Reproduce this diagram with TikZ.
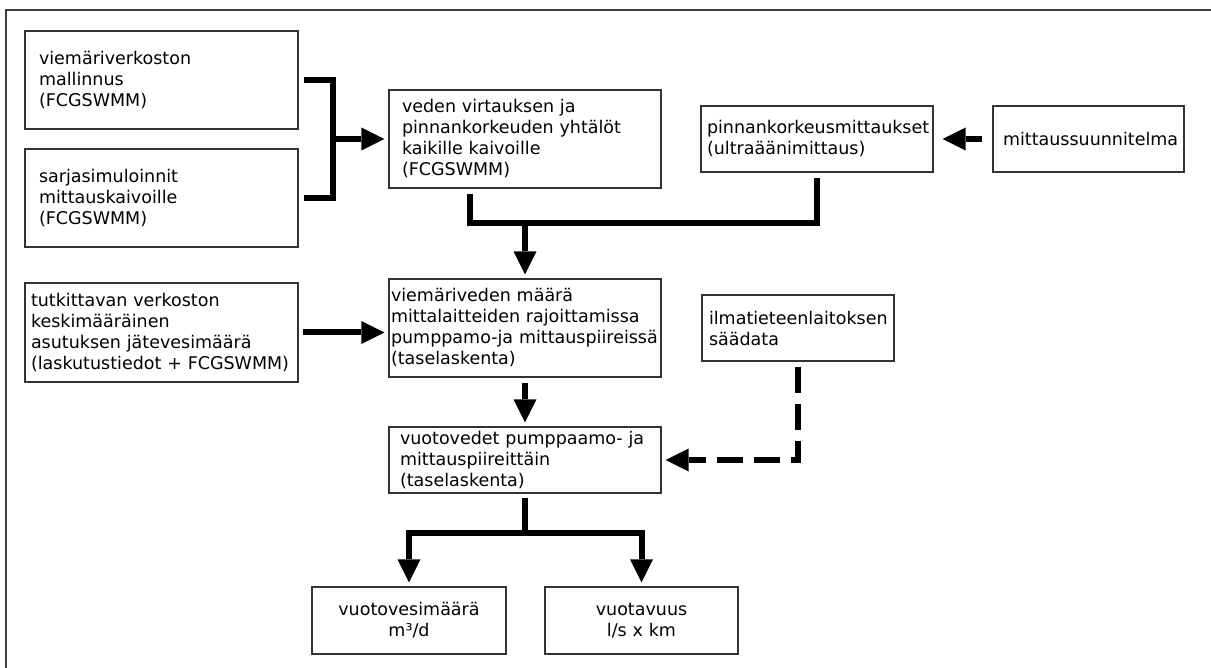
\documentclass[tikz,border=0pt]{standalone}
\usepackage{fontspec}
\setmainfont{DejaVu Sans}
\usetikzlibrary{arrows.meta}

\begin{document}
\begin{tikzpicture}[x=1pt,y=-1pt,
    box/.style={draw=black!80,line width=1.2pt,rectangle,inner ysep=0pt,align=left,
        font=\fontsize{17.5}{21}\selectfont},
    flow/.style={line width=6pt,black},
    arr/.style={flow,-{Triangle[length=23pt,width=23pt,line width=0pt]}},
    dasharr/.style={arr,dash pattern=on 26pt off 11pt}]

    % Page and frame
    \useasboundingbox (0,0) rectangle (1211,668);
    \fill[white] (0,0) rectangle (1211,668);
    \draw[black!75,line width=1.5pt] (6,668) -- (6,10) -- (1211,10);

    % Boxes, left column
    \node[box,text width=245pt,inner xsep=14pt,minimum height=98pt] (mallinnus) at (161.5,80)
        {viemäriverkoston\\mallinnus\\(FCGSWMM)};
    \node[box,text width=245pt,inner xsep=14pt,minimum height=98pt] (sarjat) at (161.5,198)
        {sarjasimuloinnit\\mittauskaivoille\\(FCGSWMM)};
    \node[box,text width=261pt,inner xsep=6pt,minimum height=99pt] (jatevesi) at (161.5,332.5)
        {tutkittavan verkoston\\keskimääräinen\\asutuksen jätevesimäärä\\(laskutustiedot + FCGSWMM)};

    % Boxes, middle column
    \node[box,text width=246pt,inner xsep=13pt,minimum height=98pt] (yhtalot) at (525,139)
        {veden virtauksen ja\\pinnankorkeuden yhtälöt\\kaikille kaivoille\\(FCGSWMM)};
    \node[box,text width=268pt,inner xsep=2pt,minimum height=98pt] (viemarivesi) at (525,328)
        {viemäriveden määrä\\mittalaitteiden rajoittamissa\\pumppamo-ja mittauspiireissä\\(taselaskenta)};
    \node[box,text width=250pt,inner xsep=11pt,minimum height=66pt] (vuotovedet) at (525,460)
        {vuotovedet pumppaamo- ja\\mittauspiireittäin\\(taselaskenta)};
    \node[box,align=center,text width=174pt,inner xsep=10pt,minimum height=67pt] (maara) at (409,620.5)
        {vuotovesimäärä\\m³/d};
    \node[box,align=center,text width=173pt,inner xsep=10pt,minimum height=67pt] (vuotavuus) at (641.5,620.5)
        {vuotavuus\\l/s x km};

    % Boxes, right column
    \node[box,text width=220pt,inner xsep=6pt,minimum height=66pt] (pinta) at (817,139)
        {pinnankorkeusmittaukset\\(ultraäänimittaus)};
    \node[box,align=center,text width=171pt,inner xsep=10pt,minimum height=66pt] (suunnitelma) at (1088.5,139)
        {mittaussuunnitelma};
    \node[box,text width=178pt,inner xsep=7pt,minimum height=66pt] (saadata) at (798,328)
        {ilmatieteenlaitoksen\\säädata};

    % Connectors
    \coordinate (kokoa) at (333,139);
    \coordinate (yhdys) at (525,223);
    \coordinate (jako) at (525,533);
    \draw[flow] ([xshift=5pt]mallinnus.east) -| (kokoa) |- ([xshift=5pt]sarjat.east);
    \draw[arr,shorten >=4pt] (kokoa) -- (kokoa -| yhtalot.west);
    \draw[flow] ([xshift=-55pt,yshift=-5pt]yhtalot.south) |- (yhdys) -| ([yshift=-5pt]pinta.south);
    \draw[arr,shorten >=4pt] (yhdys) -- (viemarivesi.north);
    \draw[arr,shorten <=10pt,shorten >=9pt] (suunnitelma.west) -- (pinta.east);
    \draw[arr,shorten <=4pt,shorten >=4pt] (jatevesi.east) -- (jatevesi.east -| viemarivesi.west);
    \draw[arr,shorten <=5pt,shorten >=4pt] (viemarivesi.south) -- (vuotovedet.north);
    \draw[dasharr,shorten <=5pt,shorten >=4pt] (saadata.south) |- (vuotovedet.east);
    \draw[flow,shorten <=4pt] (vuotovedet.south) -- (jako);
    \draw[arr,shorten >=4pt] (jako) -| (maara.north);
    \draw[arr,shorten >=4pt] (jako) -| (vuotavuus.north);

\end{tikzpicture}
\end{document}
